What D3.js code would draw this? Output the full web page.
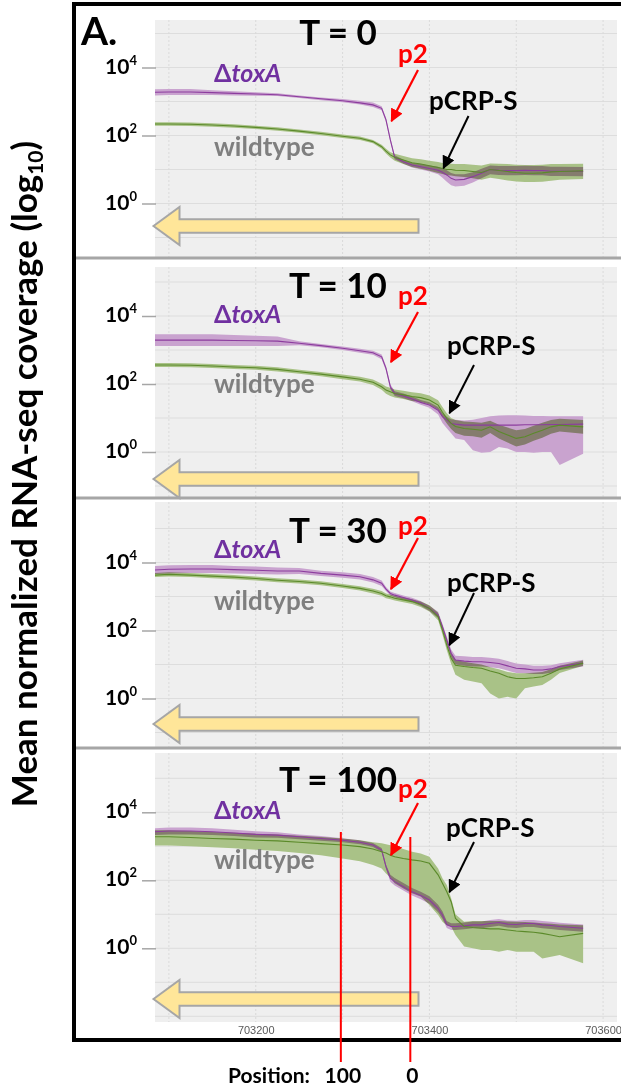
<!DOCTYPE html>
<html>
<head>
<meta charset="utf-8">
<script src="https://cdn.jsdelivr.net/npm/d3@7"></script>
<style>
  body { margin: 0; background: #fff; }
  svg { display: block; }
</style>
</head>
<body>
<script>
// genome position (bp) of each sample
const positions = [703084, 703100, 703125, 703150, 703175, 703200, 703225, 703250, 703275, 703300,
  703320, 703335, 703345, 703350, 703355, 703360, 703370, 703380, 703390, 703400,
  703410, 703415, 703420, 703425, 703430, 703440, 703450, 703460, 703470, 703480,
  703490, 703500, 703510, 703520, 703530, 703540, 703550, 703577];

// all coverage values are log10
// T = 0
const tox0Mean = [3.27,3.28,3.28,3.26,3.24,3.22,3.20,3.14,3.08,3.02,2.96,2.90,2.80,2.46,1.87,1.36,1.23,1.13,1.08,1.03,0.98,0.92,0.84,0.74,0.69,0.71,0.79,0.89,1.00,0.98,0.97,0.97,0.98,0.97,0.97,0.95,0.95,0.94];
const tox0Hi   = [3.36,3.37,3.37,3.33,3.30,3.27,3.24,3.18,3.12,3.07,3.02,2.97,2.86,2.52,1.93,1.42,1.29,1.20,1.16,1.12,1.08,1.04,0.98,0.90,0.86,0.86,0.92,1.02,1.12,1.10,1.10,1.10,1.11,1.10,1.10,1.08,1.08,1.07];
const tox0Lo   = [3.18,3.19,3.19,3.19,3.18,3.17,3.16,3.10,3.04,2.98,2.91,2.84,2.74,2.40,1.81,1.30,1.17,1.06,1.00,0.94,0.86,0.76,0.64,0.54,0.50,0.52,0.62,0.74,0.86,0.84,0.83,0.83,0.84,0.83,0.83,0.81,0.81,0.80];
const wt0Mean  = [2.34,2.34,2.33,2.31,2.28,2.24,2.19,2.13,2.06,1.98,1.92,1.82,1.67,1.54,1.43,1.36,1.28,1.20,1.16,1.11,1.06,1.03,1.00,1.00,0.98,0.97,0.94,0.91,1.00,0.97,0.94,0.91,0.89,0.89,0.90,0.93,0.94,0.96];
const wt0Hi    = [2.39,2.39,2.38,2.36,2.33,2.29,2.24,2.18,2.11,2.03,1.97,1.87,1.73,1.61,1.51,1.46,1.40,1.33,1.30,1.26,1.22,1.19,1.17,1.17,1.16,1.16,1.14,1.12,1.18,1.17,1.16,1.14,1.13,1.13,1.14,1.16,1.16,1.17];
const wt0Lo    = [2.29,2.29,2.28,2.26,2.23,2.19,2.14,2.08,2.01,1.93,1.87,1.77,1.61,1.47,1.35,1.26,1.16,1.07,1.02,0.96,0.90,0.87,0.83,0.82,0.80,0.78,0.74,0.70,0.76,0.72,0.68,0.65,0.63,0.63,0.64,0.67,0.70,0.72];

// T = 10
const tox10Mean = [3.29,3.29,3.29,3.29,3.28,3.27,3.26,3.20,3.13,3.05,2.98,2.92,2.80,2.46,1.92,1.72,1.65,1.56,1.46,1.38,1.23,1.04,0.94,0.84,0.82,0.79,0.79,0.79,0.79,0.79,0.79,0.79,0.80,0.80,0.80,0.81,0.81,0.82];
const tox10Hi   = [3.46,3.46,3.46,3.46,3.44,3.42,3.40,3.26,3.18,3.10,3.04,2.98,2.87,2.53,1.99,1.79,1.72,1.63,1.53,1.46,1.32,1.14,1.04,0.96,0.95,0.93,0.95,1.00,1.05,1.07,1.08,1.08,1.07,1.06,1.06,1.05,1.05,1.05];
const tox10Lo   = [3.12,3.12,3.12,3.12,3.12,3.12,3.12,3.14,3.08,3.00,2.92,2.86,2.73,2.39,1.85,1.65,1.58,1.49,1.39,1.30,1.10,0.85,0.70,0.55,0.40,0.35,0.05,-0.02,0.00,0.15,0.10,0.00,0.00,-0.02,0.00,0.00,-0.38,-0.05];
const wt10Mean  = [2.56,2.56,2.55,2.53,2.50,2.48,2.43,2.36,2.29,2.21,2.14,2.05,1.92,1.82,1.77,1.72,1.68,1.63,1.60,1.53,1.38,1.17,0.99,0.84,0.75,0.69,0.67,0.64,0.74,0.60,0.50,0.40,0.45,0.55,0.64,0.74,0.79,0.74];
const wt10Hi    = [2.62,2.62,2.61,2.59,2.56,2.54,2.49,2.42,2.35,2.28,2.21,2.13,2.01,1.93,1.89,1.84,1.80,1.76,1.73,1.66,1.52,1.32,1.14,1.00,0.94,0.90,0.88,0.86,0.92,0.80,0.72,0.64,0.68,0.77,0.86,0.94,0.98,0.94];
const wt10Lo    = [2.50,2.50,2.49,2.47,2.44,2.42,2.37,2.30,2.23,2.14,2.07,1.97,1.83,1.71,1.65,1.60,1.56,1.50,1.47,1.40,1.24,1.02,0.84,0.68,0.56,0.48,0.46,0.42,0.56,0.40,0.28,0.16,0.22,0.33,0.42,0.54,0.60,0.54];

// T = 30
const tox30Mean = [3.78,3.80,3.81,3.81,3.79,3.77,3.75,3.75,3.68,3.63,3.58,3.49,3.39,3.22,3.09,3.04,2.97,2.90,2.80,2.65,2.46,2.11,1.72,1.33,1.13,1.10,1.08,1.08,1.06,1.03,0.96,0.89,0.87,0.84,0.84,0.87,0.94,1.04];
const tox30Hi   = [3.90,3.92,3.93,3.93,3.90,3.88,3.85,3.84,3.76,3.71,3.66,3.57,3.47,3.28,3.15,3.10,3.03,2.96,2.87,2.73,2.55,2.20,1.82,1.44,1.26,1.24,1.22,1.22,1.20,1.17,1.10,1.03,1.00,0.96,0.96,0.98,1.04,1.14];
const tox30Lo   = [3.66,3.68,3.69,3.69,3.68,3.66,3.65,3.66,3.60,3.55,3.50,3.41,3.31,3.16,3.03,2.98,2.91,2.84,2.73,2.57,2.37,2.02,1.62,1.22,1.00,0.96,0.94,0.94,0.92,0.89,0.82,0.75,0.74,0.72,0.72,0.76,0.84,0.94];
const wt30Mean  = [3.63,3.65,3.63,3.60,3.57,3.53,3.48,3.44,3.39,3.31,3.24,3.16,3.09,3.02,2.99,2.95,2.90,2.85,2.77,2.65,2.41,2.01,1.57,1.18,0.98,0.94,0.91,0.89,0.81,0.74,0.64,0.59,0.59,0.61,0.64,0.74,0.87,1.04];
const wt30Hi    = [3.69,3.71,3.69,3.66,3.63,3.59,3.54,3.50,3.45,3.37,3.30,3.23,3.16,3.09,3.06,3.02,2.97,2.92,2.85,2.74,2.52,2.14,1.72,1.34,1.14,1.08,1.04,1.00,0.92,0.86,0.78,0.74,0.74,0.76,0.78,0.86,0.96,1.12];
const wt30Lo    = [3.57,3.59,3.57,3.54,3.51,3.47,3.42,3.38,3.33,3.25,3.18,3.09,3.02,2.95,2.92,2.88,2.83,2.78,2.69,2.56,2.30,1.88,1.42,1.02,0.70,0.55,0.50,0.45,0.15,0.00,0.05,0.00,0.30,0.35,0.40,0.55,0.75,0.96];

// T = 100
const tox100Mean = [3.43,3.45,3.45,3.43,3.39,3.35,3.33,3.28,3.23,3.18,3.12,3.04,2.89,2.40,2.06,1.96,1.81,1.66,1.55,1.42,1.17,0.98,0.70,0.64,0.64,0.66,0.69,0.69,0.73,0.76,0.71,0.70,0.73,0.73,0.69,0.67,0.64,0.59];
const tox100Hi   = [3.53,3.55,3.55,3.53,3.49,3.44,3.41,3.35,3.30,3.24,3.18,3.10,2.95,2.46,2.16,2.07,1.92,1.77,1.66,1.53,1.28,1.09,0.80,0.74,0.74,0.76,0.79,0.79,0.83,0.86,0.82,0.81,0.83,0.83,0.80,0.78,0.75,0.70];
const tox100Lo   = [3.33,3.35,3.35,3.33,3.30,3.26,3.25,3.21,3.16,3.12,3.06,2.98,2.83,2.34,1.96,1.85,1.70,1.55,1.44,1.31,1.06,0.87,0.60,0.54,0.54,0.56,0.59,0.59,0.63,0.66,0.61,0.60,0.63,0.63,0.59,0.57,0.54,0.49];
const wt100Mean  = [3.28,3.28,3.26,3.23,3.21,3.18,3.16,3.12,3.08,3.04,2.99,2.92,2.84,2.80,2.74,2.69,2.64,2.60,2.57,2.50,2.16,1.91,1.66,1.37,0.88,0.64,0.61,0.59,0.57,0.57,0.54,0.51,0.49,0.47,0.44,0.39,0.34,0.44];
const wt100Hi    = [3.47,3.47,3.45,3.42,3.40,3.37,3.35,3.31,3.27,3.23,3.18,3.12,3.09,3.06,3.03,3.00,2.92,2.84,2.79,2.69,2.35,2.06,1.86,1.47,1.00,0.78,0.80,0.80,0.80,0.80,0.79,0.78,0.77,0.76,0.74,0.72,0.70,0.68];
const wt100Lo    = [3.02,3.02,3.00,2.97,2.94,2.90,2.86,2.80,2.74,2.64,2.56,2.45,2.35,2.20,2.08,1.91,1.76,1.62,1.52,1.27,0.98,0.78,0.68,0.64,0.39,0.05,0.00,-0.05,-0.05,-0.10,-0.05,-0.10,-0.10,-0.10,-0.30,-0.25,-0.20,-0.44];

const timeLabels = ["T = 0", "T = 10", "T = 30", "T = 100"];
const yTickValues = [0, 2, 4];
const xTickValues = [703200, 703400, 703600];
const markerPositions = [703298, 703378];
const markerLabels = ["100", "0"];

const W = 621, H = 1091;
const FONT = "Lato, 'Noto Sans', 'DejaVu Sans', sans-serif";

const svg = d3.select("body").append("svg")
  .attr("width", W)
  .attr("height", H)
  .style("font-family", FONT);

const defs = svg.append("defs");
[["red", "#ff0000"], ["black", "#000"]].forEach(([id, c]) => {
  defs.append("marker")
    .attr("id", "head-" + id)
    .attr("markerUnits", "userSpaceOnUse")
    .attr("viewBox", "0 0 10 10")
    .attr("refX", 9).attr("refY", 5)
    .attr("markerWidth", 13).attr("markerHeight", 13)
    .attr("orient", "auto")
    .append("path")
    .attr("d", "M0,0 L10,5 L0,10 z")
    .attr("fill", c);
});

const x = d3.scaleLinear().domain([703084, 703616]).range([155, 617]);

// layout of each panel (pixel positions)
const panels = [
  { title: timeLabels[0], zero: 203.5, top: 20, bottom: 258,
    series: [[tox0Mean, tox0Lo, tox0Hi], [wt0Mean, wt0Lo, wt0Hi]],
    titleY: 45, p2Y: 63, toxY: 82, wtY: 156, crpX: 429, crpY: 110,
    red: [418, 70, 391.5, 121], black: [468.5, 116, 443.5, 168], arrowY: 226 },
  { title: timeLabels[1], zero: 452, top: 267, bottom: 498,
    series: [[tox10Mean, tox10Lo, tox10Hi], [wt10Mean, wt10Lo, wt10Hi]],
    titleY: 298, p2Y: 305, toxY: 323, wtY: 393, crpX: 447, crpY: 355,
    red: [418, 312, 391, 362], black: [474, 365, 449.5, 413], arrowY: 479 },
  { title: timeLabels[2], zero: 698.5, top: 502, bottom: 748,
    series: [[tox30Mean, tox30Lo, tox30Hi], [wt30Mean, wt30Lo, wt30Hi]],
    titleY: 543, p2Y: 535, toxY: 558, wtY: 610, crpX: 447, crpY: 592,
    red: [418, 538, 391, 589], black: [474, 593, 449.5, 645], arrowY: 724 },
  { title: timeLabels[3], zero: 948.3, top: 753, bottom: 1022,
    series: [[tox100Mean, tox100Lo, tox100Hi], [wt100Mean, wt100Lo, wt100Hi]],
    titleY: 792, p2Y: 798, toxY: 819, wtY: 869, crpX: 446, crpY: 837,
    red: [418, 803, 391, 855], black: [474, 842, 449.5, 892], arrowY: 999 }
];

const bandFill = ["#c9a3cf", "#a9c287"];
const lineColor = ["#8c3c9e", "#5b8a2a"];

panels.forEach((p, i) => {
  const y = d3.scaleLinear().domain([0, 4]).range([p.zero, p.zero - 136]);
  const g = svg.append("g").attr("class", "panel");

  g.append("rect")
    .attr("x", x.range()[0]).attr("y", p.top)
    .attr("width", x.range()[1] - x.range()[0])
    .attr("height", p.bottom - p.top)
    .attr("fill", "#efefef");

  const clipId = "clip" + i;
  defs.append("clipPath").attr("id", clipId)
    .append("rect")
    .attr("x", x.range()[0]).attr("y", p.top)
    .attr("width", x.range()[1] - x.range()[0])
    .attr("height", p.bottom - p.top);

  // grid
  const grid = g.append("g").attr("clip-path", `url(#${clipId})`);
  grid.selectAll(".hg").data(d3.range(-3, 7))
    .enter().append("line")
    .attr("x1", x.range()[0]).attr("x2", x.range()[1])
    .attr("y1", d => y(d)).attr("y2", d => y(d))
    .attr("stroke", "#dddddd").attr("stroke-width", 1);
  grid.selectAll(".vg").data(d3.range(703100, 703700, 100))
    .enter().append("line")
    .attr("x1", d => x(d)).attr("x2", d => x(d))
    .attr("y1", p.top).attr("y2", p.bottom)
    .attr("stroke", "#dadada").attr("stroke-dasharray", "2,2");

  // ticks
  const yAxis = d3.axisLeft(y).tickValues(yTickValues).tickSize(14).tickFormat("");
  const ga = g.append("g").attr("transform", `translate(${x.range()[0] + 1},0)`).call(yAxis);
  ga.select(".domain").remove();
  ga.selectAll(".tick line").attr("stroke", "#a6a6a6").attr("stroke-width", 1.5);
  yTickValues.forEach(v => {
    const t = g.append("text")
      .attr("x", 137).attr("y", y(v) + 6)
      .attr("text-anchor", "end")
      .attr("font-size", 21).attr("font-weight", 700)
      .attr("fill", "#000");
    t.append("tspan").text("10");
    t.append("tspan").attr("font-size", 13).attr("dy", -9).text(v);
  });

  // data
  const plot = g.append("g").attr("clip-path", `url(#${clipId})`);
  p.series.forEach(([mean, lo, hi], k) => {
    const rows = positions.map((pos, j) => ({ pos, m: mean[j], lo: lo[j], hi: hi[j] }));
    plot.append("path").datum(rows)
      .attr("d", d3.area().x(d => x(d.pos)).y0(d => y(d.lo)).y1(d => y(d.hi)))
      .attr("fill", bandFill[k])
      .style("mix-blend-mode", "multiply");
  });
  p.series.forEach(([mean], k) => {
    plot.append("path").datum(positions.map((pos, j) => [pos, mean[j]]))
      .attr("d", d3.line().x(d => x(d[0])).y(d => y(d[1])))
      .attr("fill", "none")
      .attr("stroke", lineColor[k]).attr("stroke-width", 1.1);
  });

  // yellow transcription arrow
  const cy = p.arrowY, tip = 153.5, base = 179.5, end = 418.5;
  g.append("path")
    .attr("d", `M${tip},${cy} L${base},${cy - 19} L${base},${cy - 6.7} L${end},${cy - 6.7} ` +
               `L${end},${cy + 6.7} L${base},${cy + 6.7} L${base},${cy + 19} Z`)
    .attr("fill", "#ffe699").attr("stroke", "#a6a6a6").attr("stroke-width", 2);

  // labels
  g.append("text").attr("x", 338).attr("y", p.titleY)
    .attr("text-anchor", "middle").attr("font-size", 35).attr("font-weight", 700)
    .text(p.title);
  g.append("text").attr("x", 398).attr("y", p.p2Y)
    .attr("font-size", 26).attr("font-weight", 700).attr("fill", "#ff0000")
    .text("p2");
  const tx = g.append("text").attr("x", 214).attr("y", p.toxY)
    .attr("font-size", 25).attr("font-weight", 700).attr("fill", "#7030a0");
  tx.append("tspan").text("Δ");
  tx.append("tspan").attr("font-style", "italic").text("toxA");
  g.append("text").attr("x", 214).attr("y", p.wtY)
    .attr("font-size", 26).attr("font-weight", 700).attr("fill", "#7f7f7f")
    .text("wildtype");
  g.append("text").attr("x", p.crpX).attr("y", p.crpY)
    .attr("font-size", 26).attr("font-weight", 700).attr("fill", "#000")
    .text("pCRP-S");

  g.append("line")
    .attr("x1", p.red[0]).attr("y1", p.red[1]).attr("x2", p.red[2]).attr("y2", p.red[3])
    .attr("stroke", "#ff0000").attr("stroke-width", 2.2).attr("marker-end", "url(#head-red)");
  g.append("line")
    .attr("x1", p.black[0]).attr("y1", p.black[1]).attr("x2", p.black[2]).attr("y2", p.black[3])
    .attr("stroke", "#000").attr("stroke-width", 2).attr("marker-end", "url(#head-black)");

  if (i === panels.length - 1) {
    const xAxis = d3.axisBottom(x).tickValues(xTickValues).tickSize(0).tickFormat(d3.format("d"));
    const gx = g.append("g").attr("transform", `translate(0,${p.bottom})`).call(xAxis);
    gx.select(".domain").remove();
    gx.selectAll("text").attr("fill", "#595959").attr("font-size", 11)
      .attr("font-family", "'Liberation Sans', Arial, sans-serif").attr("dy", "0.85em");
  }
});

// separators between panels
svg.selectAll(".sep").data(panels.slice(0, 3))
  .enter().append("line")
  .attr("x1", 76).attr("x2", W)
  .attr("y1", d => d.bottom).attr("y2", d => d.bottom)
  .attr("stroke", "#a6a6a6").attr("stroke-width", 3);

// outer frame
svg.append("rect")
  .attr("x", 74).attr("y", 4).attr("width", 580).attr("height", 1036)
  .attr("fill", "none").attr("stroke", "#000").attr("stroke-width", 4);

svg.append("text").attr("x", 81).attr("y", 45)
  .attr("font-size", 39).attr("font-weight", 700).text("A.");

// marker lines at the bottom
markerPositions.forEach((pos, k) => {
  svg.append("line")
    .attr("x1", x(pos)).attr("x2", x(pos))
    .attr("y1", k === 0 ? 832 : 837).attr("y2", 1062)
    .attr("stroke", "#ff0000").attr("stroke-width", 2);
  svg.append("text").attr("x", x(pos) + 2).attr("y", 1083)
    .attr("text-anchor", "middle").attr("font-size", 21).attr("font-weight", 700)
    .text(markerLabels[k]);
});
svg.append("text").attr("x", 228).attr("y", 1083)
  .attr("font-size", 21).attr("font-weight", 700).text("Position:");

// y axis title
const yl = svg.append("text")
  .attr("transform", "translate(37,474) rotate(-90)")
  .attr("text-anchor", "middle")
  .attr("font-size", 35).attr("font-weight", 700);
yl.append("tspan").text("Mean normalized RNA-seq coverage (log");
yl.append("tspan").attr("font-size", 21).attr("dy", 6).text("10");
yl.append("tspan").attr("dy", -6).text(")");
</script>
</body>
</html>
